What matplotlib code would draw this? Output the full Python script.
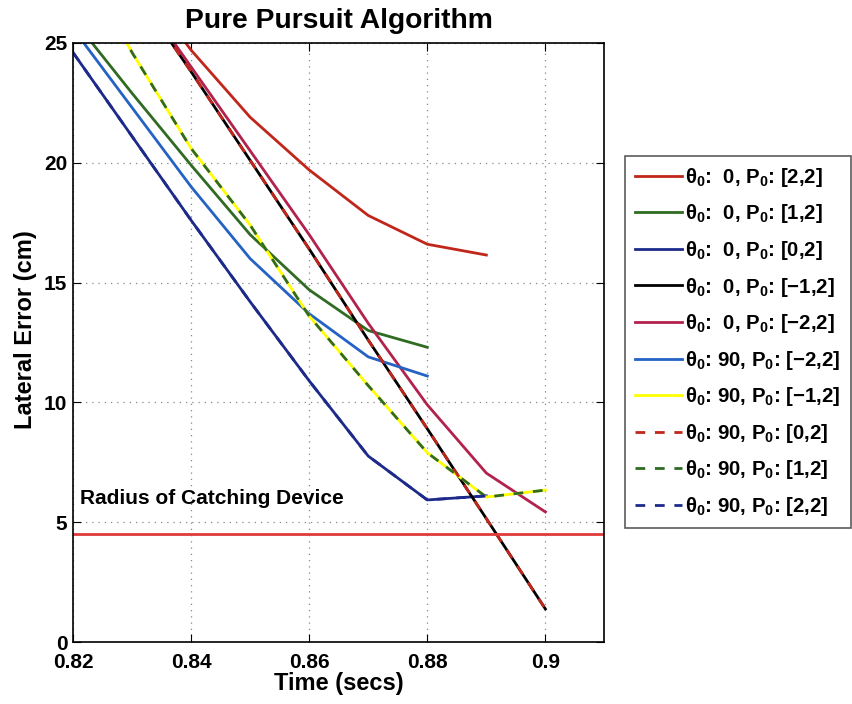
import numpy as np
import matplotlib; matplotlib.use("Agg"); import matplotlib.pyplot as plt

plt.rcParams['font.family'] = ['Liberation Sans', 'DejaVu Sans']
plt.rcParams['font.weight'] = 'bold'
plt.rcParams['mathtext.default'] = 'regular'

# ---- data ----
t = [0.82, 0.83, 0.84, 0.85, 0.86, 0.87, 0.88, 0.89, 0.90]
red_22    = [None, 28.0, 24.7, 21.9, 19.7, 17.8, 16.6, 16.15, None]
green_12  = [26.0, 22.9, 19.9, 17.0, 14.7, 13.0, 12.3, None, None]
navy_02   = [24.6, 21.1, 17.6, 14.2, 10.9, 7.76, 5.93, 6.1, None]
black_m12 = [None, 27.4, 23.8, 20.1, 16.4, 12.6, 8.9, 5.15, 1.38]
crim_m22  = [None, 27.5, 24.0, 20.5, 17.0, 13.3, 9.9, 7.05, 5.43]
lblue_m22 = [25.6, 22.3, 19.0, 16.0, 13.7, 11.9, 11.1, None, None]
yel_m12   = [29.0, 24.6, 20.6, 17.4, 13.6, 10.7, 7.9, 6.05, 6.34]
radius = 4.5

series = [
    (red_22,    '#c0261a', '-',  r'$\theta_0$:  0, P$_0$: [2,2]'),
    (green_12,  '#2f6b22', '-',  r'$\theta_0$:  0, P$_0$: [1,2]'),
    (navy_02,   '#1d2a8a', '-',  r'$\theta_0$:  0, P$_0$: [0,2]'),
    (black_m12, '#000000', '-',  r'$\theta_0$:  0, P$_0$: [$-$1,2]'),
    (crim_m22,  '#b3214d', '-',  r'$\theta_0$:  0, P$_0$: [$-$2,2]'),
    (lblue_m22, '#2462c4', '-',  r'$\theta_0$: 90, P$_0$: [$-$2,2]'),
    (yel_m12,   '#ffff00', '-',  r'$\theta_0$: 90, P$_0$: [$-$1,2]'),
    (black_m12, '#c0261a', '--', r'$\theta_0$: 90, P$_0$: [0,2]'),
    (yel_m12,   '#2f6b22', '--', r'$\theta_0$: 90, P$_0$: [1,2]'),
    (navy_02,   '#1d2a8a', '--', r'$\theta_0$: 90, P$_0$: [2,2]'),
]

fig = plt.figure(figsize=(8.53, 7.04), dpi=100)
ax = fig.add_axes([0.0856, 0.088, 0.623, 0.851])
handles = []
for vals, col, ls, lab in series:
    v = np.array([np.nan if x is None else x for x in vals], float)
    h, = ax.plot(t, v, color=col, ls=ls, lw=2, dashes=(3.5, 3.5) if ls == '--' else (None, None), label=lab)
    handles.append(h)
ax.axhline(radius, color='#e03a3a', lw=2)
ax.text(0.8212, 6.0, 'Radius of Catching Device', fontsize=15, fontweight='bold', va='center')

ax.set_xlim(0.82, 0.91); ax.set_ylim(0, 25)
ax.set_xticks([0.82, 0.84, 0.86, 0.88, 0.9]); ax.set_xticklabels(['0.82', '0.84', '0.86', '0.88', '0.9'])
ax.set_yticks([0, 5, 10, 15, 20, 25])
ax.tick_params(direction='in', top=True, right=True, labelsize=15, length=6)
ax.tick_params(axis='x', pad=8)
ax.tick_params(axis='y', pad=4)
ax.grid(True, ls=(0, (1, 4)), color='#888888', lw=0.9)
ax.set_xlabel('Time (secs)', fontsize=17, fontweight='bold', labelpad=0)
ax.set_ylabel('Lateral Error (cm)', fontsize=17, fontweight='bold')
ax.yaxis.set_label_coords(-0.068, 0.522)
ax.set_title('Pure Pursuit Algorithm', fontsize=20.3, fontweight='bold', pad=11)
for s in ax.spines.values(): s.set_linewidth(1.2)

leg = fig.legend(handles=handles, loc='upper left', bbox_to_anchor=(0.733, 0.779), fontsize=14.7,
                 handlelength=2.3, handletextpad=0.15, labelspacing=0.665, fancybox=False,
                 edgecolor='#333333', borderpad=0.5, borderaxespad=0)
leg.get_frame().set_linewidth(1.2)
fig.savefig('out.png', dpi=100)
